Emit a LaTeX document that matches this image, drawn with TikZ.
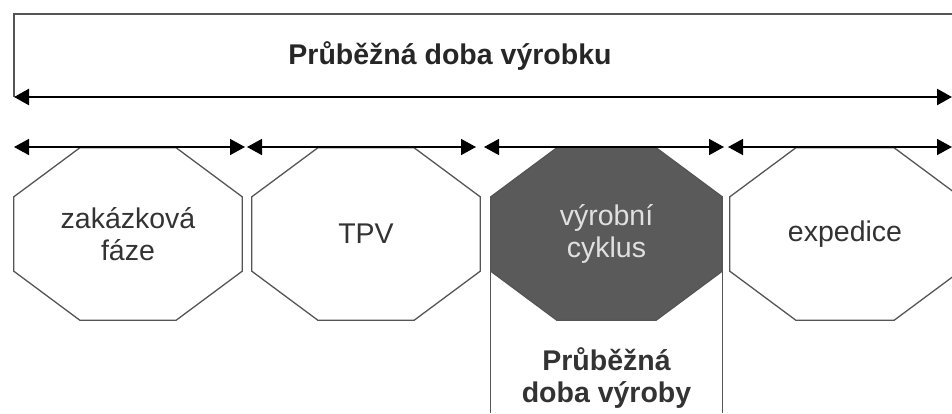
\documentclass[tikz,border=0pt]{standalone}
\usepackage{fontspec}
\setmainfont{Liberation Sans}
\usetikzlibrary{arrows.meta,calc,backgrounds}
\definecolor{linegray}{HTML}{555555}
\definecolor{darkfill}{HTML}{5A5A5A}
\definecolor{textgray}{HTML}{333333}
\begin{document}
\begin{tikzpicture}[x=1pt,y=1pt,>={Triangle[length=15pt,width=16pt]},font=\fontsize{28.5}{32}\selectfont]
\tikzstyle{phase}=[rectangle,inner sep=0pt,minimum height=172pt,align=center]
\tikzstyle{octo}=[draw=linegray,line width=1.3pt,line join=miter]
\tikzstyle{span}=[<->,line width=1.6pt]
\useasboundingbox (0,0) rectangle (952,-413);
% top frame
\coordinate (tl) at (14,-14);
\coordinate (tr) at (952,-14);
\coordinate (bl) at (14,-97);
\coordinate (br) at (952,-97);
\coordinate (bot) at (0,-413);
\draw[linegray,line width=1.5pt] (tr) -- (tl) -- (bl);
\draw[<->,line width=2.4pt] (bl) -- (br);
\node[font=\bfseries\fontsize{28.5}{32}\selectfont,text=black!85,anchor=base] (title) at (450,-64) {Průběžná doba výrobku};
% spans
\foreach \i/\xa/\xb in {1/14/245, 2/247/476, 3/484/724, 4/728/952} {
  \coordinate (a\i) at (\xa,-147);
  \coordinate (b\i) at (\xb,-147);
}
% phases
\foreach \i/\fl/\tc/\xx/\w/\txt in {1/white/textgray/128/228/{zakázková\\fáze}, 2/white/textgray/366/228/TPV, 3/darkfill/black!12/606.5/231/{výrobní\\cyklus}, 4/white/textgray/845/230/expedice} {
  \node[phase,text=\tc,minimum width=\w pt] (p\i) at (\xx,-234) {\txt};
  \begin{scope}[on background layer]
  \draw[octo,fill=\fl] ($(p\i.north west)+(66,0)$) -- ($(p\i.north east)+(-66,0)$) -- ($(p\i.north east)+(0,-49)$) -- ($(p\i.south east)+(0,49)$)
    -- ($(p\i.south east)+(-66,0)$) -- ($(p\i.south west)+(66,0)$) -- ($(p\i.south west)+(0,49)$) -- ($(p\i.north west)+(0,-49)$) -- cycle;
  \end{scope}
}
\foreach \i in {1,...,4} \draw[span] (a\i) -- (b\i);
\draw[linegray,line width=1.3pt] (p3.west) -- (p3.west |- bot);
\draw[linegray,line width=1.3pt] (p3.east) -- (p3.east |- bot);
\node[font=\bfseries\fontsize{28.5}{32}\selectfont,text=textgray,align=center] (lbl) at (606.5,-378) {Průběžná\\doba výroby};
\end{tikzpicture}
\end{document}
